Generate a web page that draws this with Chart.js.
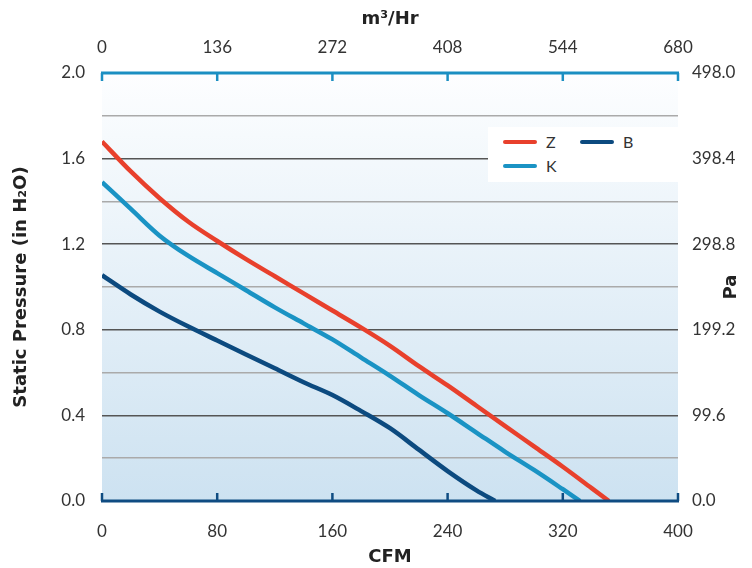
<!DOCTYPE html>
<html>
<head>
<meta charset="utf-8">
<script src="https://cdn.jsdelivr.net/npm/chart.js@4"></script>
<style>
  body { margin: 0; background: #fff; }
  #wrap { position: relative; width: 752px; height: 568px; }
  #legend { position: absolute; left: 488px; top: 127px; width: 190px; height: 55px; background: #fff;
            font: 16px Lato, sans-serif; color: #333; }
  .item { position: absolute; display: flex; align-items: center; }
  .swatch { width: 34px; height: 4px; border-radius: 2px; margin-right: 9px; }
</style>
</head>
<body>
<div id="wrap">
  <canvas id="fanChart"></canvas>
  <div id="legend"></div>
</div>
<script>
// --- Fan curve: static pressure vs airflow ---

const seriesNames = ['Z', 'K', 'B'];
const seriesColors = ['#e8402c', '#1a93c4', '#0c4a7f'];

const cfmZ = [0, 20, 40, 60, 80, 100, 120, 140, 160, 180, 200, 220, 240, 260, 280, 300, 320, 340, 352];
const pressZ = [1.68, 1.54, 1.415, 1.305, 1.215, 1.13, 1.05, 0.97, 0.89, 0.81, 0.725, 0.63, 0.54, 0.445, 0.35, 0.255, 0.16, 0.06, 0];

const cfmK = [0, 20, 40, 60, 80, 100, 120, 140, 160, 180, 200, 220, 240, 260, 280, 300, 320, 332];
const pressK = [1.49, 1.365, 1.24, 1.145, 1.065, 0.985, 0.905, 0.83, 0.755, 0.67, 0.585, 0.495, 0.41, 0.32, 0.23, 0.145, 0.055, 0];

const cfmB = [0, 20, 40, 60, 80, 100, 120, 140, 160, 180, 200, 220, 240, 260, 273];
const pressB = [1.055, 0.965, 0.885, 0.815, 0.75, 0.685, 0.62, 0.555, 0.495, 0.42, 0.34, 0.24, 0.14, 0.05, 0];

const cfmTicks = [0, 80, 160, 240, 320, 400];
const m3hrTicks = [0, 136, 272, 408, 544, 680];
const pressureTicks = [0, 0.2, 0.4, 0.6, 0.8, 1.0, 1.2, 1.4, 1.6, 1.8, 2.0];
const pressureLabels = [0, 0.4, 0.8, 1.2, 1.6, 2.0];
const paTicks = [0, 99.6, 199.2, 298.8, 398.4, 498.0];

const toPoints = (xs, ys) => xs.map((x, i) => ({ x: x, y: ys[i] }));
const setTicks = list => scale => { scale.ticks = list.map(v => ({ value: v })); };
const isLabeled = v => pressureLabels.some(l => Math.abs(l - v) < 1e-6);

const tickFont = { family: 'Lato', size: 17 };
const titleFont = { family: 'DejaVu Sans', size: 18, weight: 'bold' };

const backdrop = {
  id: 'backdrop',
  beforeDraw(chart) {
    const { ctx, chartArea: a } = chart;
    const g = ctx.createLinearGradient(0, a.top, 0, a.bottom);
    g.addColorStop(0, '#fdfeff');
    g.addColorStop(1, '#cde2f1');
    ctx.save();
    ctx.fillStyle = g;
    ctx.fillRect(a.left, a.top, a.right - a.left, a.bottom - a.top);
    ctx.restore();
  }
};

const axisLines = {
  id: 'axisLines',
  afterDraw(chart) {
    const { ctx, chartArea: a, scales } = chart;
    const drawAxis = (scale, y, dir, color) => {
      ctx.strokeStyle = color;
      ctx.lineWidth = 3;
      ctx.beginPath();
      ctx.moveTo(a.left - 1, y);
      ctx.lineTo(a.right + 1, y);
      ctx.stroke();
      ctx.lineWidth = 2.5;
      scale.ticks.forEach(t => {
        const x = scale.getPixelForValue(t.value);
        ctx.beginPath();
        ctx.moveTo(x, y);
        ctx.lineTo(x, y + dir * 8);
        ctx.stroke();
      });
    };
    ctx.save();
    drawAxis(scales.x2, a.top, 1, '#1b8fc2');
    drawAxis(scales.x, a.bottom, -1, '#0f4c82');
    // right title reads bottom-to-top like the left one
    ctx.translate(731, (a.top + a.bottom) / 2);
    ctx.rotate(-Math.PI / 2);
    ctx.fillStyle = '#222';
    ctx.font = 'bold 18px "DejaVu Sans"';
    ctx.textAlign = 'center';
    ctx.textBaseline = 'middle';
    ctx.fillText('Pa', 0, 0);
    ctx.restore();
  }
};

const datasets = [
  toPoints(cfmZ, pressZ),
  toPoints(cfmK, pressK),
  toPoints(cfmB, pressB)
].map((pts, i) => ({
  label: seriesNames[i],
  data: pts,
  borderColor: seriesColors[i],
  borderWidth: 4.5,
  pointRadius: 0,
  fill: false,
  cubicInterpolationMode: 'monotone',
  xAxisID: 'x',
  yAxisID: 'y'
}));

new Chart(document.getElementById('fanChart'), {
  type: 'line',
  data: { datasets: datasets },
  options: {
    responsive: true,
    maintainAspectRatio: false,
    animation: false,
    layout: { padding: 0 },
    plugins: { legend: { display: false }, tooltip: { enabled: false } },
    scales: {
      x: {
        type: 'linear', position: 'bottom', min: 0, max: 400,
        afterBuildTicks: setTicks(cfmTicks),
        afterFit: s => { s.height = 67; },
        border: { display: false },
        grid: { display: false },
        ticks: { font: tickFont, color: '#333', padding: 12, maxRotation: 0 },
        title: { display: true, text: 'CFM', font: titleFont, color: '#222', padding: { top: 0, bottom: 0 } }
      },
      x2: {
        type: 'linear', position: 'top', min: 0, max: 680,
        afterBuildTicks: setTicks(m3hrTicks),
        afterFit: s => { s.height = 73; },
        border: { display: false },
        grid: { display: false },
        ticks: { font: tickFont, color: '#333', padding: 7, maxRotation: 0 },
        title: { display: true, text: 'm³/Hr', font: titleFont, color: '#222', padding: { top: 9, bottom: 0 } }
      },
      y: {
        type: 'linear', position: 'left', min: 0, max: 2,
        afterBuildTicks: setTicks(pressureTicks),
        afterFit: s => { s.width = 102; },
        border: { display: false },
        grid: {
          drawTicks: false,
          lineWidth: 1.5,
          color: c => (c.tick.value <= 0 || c.tick.value >= 2) ? 'rgba(0,0,0,0)' : (isLabeled(c.tick.value) ? '#555' : '#aaa')
        },
        ticks: {
          font: tickFont, color: '#333', padding: 17,
          callback: v => isLabeled(v) ? v.toFixed(1) : ''
        },
        title: { display: true, text: 'Static Pressure (in H₂O)', font: titleFont, color: '#222', padding: { top: 11, bottom: 0 } }
      },
      y2: {
        type: 'linear', position: 'right', min: 0, max: 498,
        afterBuildTicks: setTicks(paTicks),
        afterFit: s => { s.width = 74; },
        border: { display: false },
        grid: { display: false, drawTicks: false },
        ticks: { font: tickFont, color: '#333', padding: 14, callback: v => v.toFixed(1) }
      }
    }
  },
  plugins: [backdrop, axisLines]
});

// legend box
const legendPos = [[15, 15], [15, 39], [92, 15]];
const legend = document.getElementById('legend');
seriesNames.forEach((name, i) => {
  const item = document.createElement('div');
  item.className = 'item';
  item.style.left = legendPos[i][0] + 'px';
  item.style.top = (legendPos[i][1] - 10) + 'px';
  item.innerHTML = `<span class="swatch" style="background:${seriesColors[i]}"></span><span>${name}</span>`;
  legend.appendChild(item);
});
</script>
</body>
</html>
